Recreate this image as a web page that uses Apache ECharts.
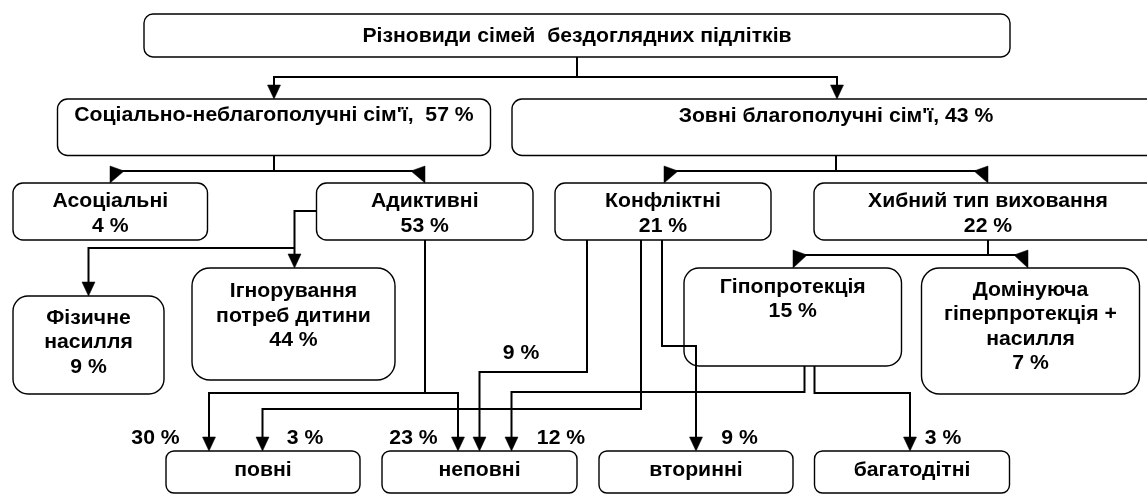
<!DOCTYPE html>
<html><head><meta charset="utf-8">
<script src="https://cdn.jsdelivr.net/npm/echarts@6/dist/echarts.min.js"></script>
<style>html,body{margin:0;padding:0;background:#fff}#c{width:1147px;height:494px}</style>
</head><body><div id="c"></div>
<script>
// ---- data ----
const categories = [
  'Різновиди сімей  бездоглядних підлітків',
  "Соціально-неблагополучні сім'ї",
  "Зовні благополучні сім'ї",
  'Асоціальні',
  'Адиктивні',
  'Конфліктні',
  'Хибний тип виховання',
  'Фізичне\nнасилля',
  'Ігнорування\nпотреб дитини',
  'Гіпопротекція',
  'Домінуюча\nгіперпротекція +\nнасилля',
  'повні',
  'неповні',
  'вторинні',
  'багатодітні'
];
const shares = [null, 57, 43, 4, 53, 21, 22, 9, 44, 15, 7, null, null, null, null];
const flowSources = ['Адиктивні', 'Конфліктні', 'Адиктивні', 'Конфліктні', 'Гіпопротекція', 'Конфліктні', 'Гіпопротекція'];
const flowTargets = ['повні', 'повні', 'неповні', 'неповні', 'неповні', 'вторинні', 'багатодітні'];
const flowShares = [30, 3, 23, 9, 12, 9, 3];

// ---- layout (diagram coordinates) ----
// [x0, y0, x1, y1, radius, firstLineY, mode]
const boxLayout = [
  [144, 14, 1010, 57, 9, 36, 'single'],
  [57.5, 99, 490.5, 155.5, 10, 115, 'inline2'],
  [512, 99, 1160, 155.5, 10, 116, 'inline1'],
  [13, 183, 207.5, 240, 10, 201.5, 'stack'],
  [316.5, 183, 533, 240, 10, 201.5, 'stack'],
  [555, 183, 771, 240, 10, 201.5, 'stack'],
  [814, 183, 1162, 240, 10, 201.5, 'stack'],
  [13, 296, 164, 394, 15, 318, 'stack'],
  [192, 268, 395, 380, 18, 291.5, 'stack'],
  [684, 268, 901.5, 366, 15, 287, 'stack'],
  [921.5, 268, 1139.5, 394, 18, 290, 'stack'],
  [166, 451, 360, 493, 8, 470, 'single'],
  [382, 451, 577, 493, 8, 470, 'single'],
  [599, 451, 793, 493, 8, 470, 'single'],
  [814.5, 451, 1009.5, 493, 8, 470, 'single']
];
const lineH = 24.5;
// connector polylines
const connectorPaths = [
  [[577, 57], [577, 77]],
  [[274, 87], [274, 77], [837, 77], [837, 87]],
  [[274, 155.5], [274, 171]],
  [[122, 171], [413, 171]],
  [[836, 155.5], [836, 171]],
  [[676, 171], [976, 171]],
  [[988, 240], [988, 255]],
  [[805, 255], [1016, 255]],
  [[316.5, 211], [294.5, 211], [294.5, 256]],
  [[294.5, 248], [88.5, 248], [88.5, 284]],
  [[425, 240], [425, 393]],
  [[209, 439], [209, 393], [458, 393], [458, 439]],
  [[641, 240], [641, 409], [262.5, 409], [262.5, 439]],
  [[587, 240], [587, 372], [479.5, 372], [479.5, 439]],
  [[804.5, 366], [804.5, 392], [511.5, 392], [511.5, 439]],
  [[662, 240], [662, 346], [696, 346], [696, 439]],
  [[814.5, 366], [814.5, 393], [910, 393], [910, 439]]
];
// down arrowheads: [x, tipY]
const downArrows = [
  [274, 99], [837, 99], [294.5, 268], [88.5, 296],
  [209, 451], [262.5, 451], [458, 451], [479.5, 451], [511.5, 451], [696, 451], [910, 451]
];
// side arrowheads: [x, lineY, tipY, dir]
const sideArrows = [
  [110, 171, 183, 1], [425, 171, 183, -1],
  [664, 171, 183, 1], [988, 171, 183, -1],
  [793, 255, 268, 1], [1028, 255, 268, -1]
];
// flow label positions [x, y] (same order as flowShares)
const flowLabelPos = [[155.5, 438], [305, 438], [413.5, 438], [521, 353], [561, 438], [739.5, 438], [943, 438]];

const FONT = 'bold 20px "Liberation Sans", Arial, sans-serif';
const STRETCH = 1.06;

function boxLines(i) {
  const mode = boxLayout[i][6];
  const name = categories[i];
  const s = shares[i];
  if (mode === 'single') return [name];
  if (mode === 'inline2') return [name + ',  ' + s + ' %'];
  if (mode === 'inline1') return [name + ', ' + s + ' %'];
  return name.split('\n').concat([s + ' %']);
}

function textEl(str, p) {
  return {
    type: 'text', x: p[0], y: p[1], scaleX: STRETCH, scaleY: 1,
    style: {text: str, x: 0, y: 0, font: FONT, fill: '#000000', textAlign: 'center', textVerticalAlign: 'middle'}
  };
}

const chart = echarts.init(document.getElementById('c'), null, {renderer: 'canvas'});
chart.setOption({
  animation: false,
  backgroundColor: '#ffffff',
  grid: {left: 0, right: 0, top: 0, bottom: 0},
  xAxis: {type: 'value', min: 0, max: 1147, show: false},
  yAxis: {type: 'value', min: 0, max: 494, inverse: true, show: false},
  series: [
    {
      type: 'custom', name: 'boxes', z: 1,
      data: boxLayout.map((b, i) => [b[0], b[1], b[2], b[3], b[4], i]),
      renderItem: function (params, api) {
        const p0 = api.coord([api.value(0), api.value(1)]);
        const p1 = api.coord([api.value(2), api.value(3)]);
        return {
          type: 'rect',
          shape: {x: p0[0], y: p0[1], width: p1[0] - p0[0], height: p1[1] - p0[1], r: api.value(4)},
          style: {fill: '#ffffff', stroke: '#000000', lineWidth: 1.4}
        };
      }
    },
    {
      type: 'custom', name: 'connectors', z: 2,
      data: connectorPaths.map((p, i) => [i]),
      renderItem: function (params, api) {
        const pts = connectorPaths[api.value(0)].map(q => api.coord(q));
        return {
          type: 'polyline',
          shape: {points: pts},
          style: {fill: null, stroke: '#000000', lineWidth: 2}
        };
      }
    },
    {
      type: 'custom', name: 'downArrows', z: 3,
      data: downArrows,
      renderItem: function (params, api) {
        const x = api.value(0), t = api.value(1);
        const pts = [[x - 6.5, t - 14], [x + 6.5, t - 14], [x, t]].map(q => api.coord(q));
        return {type: 'polygon', shape: {points: pts}, style: {fill: '#000000', stroke: '#000000', lineWidth: 0.5}};
      }
    },
    {
      type: 'custom', name: 'sideArrows', z: 3,
      data: sideArrows,
      renderItem: function (params, api) {
        const x = api.value(0), ly = api.value(1), t = api.value(2), d = api.value(3);
        const pts = [[x, ly - 5], [x + d * 14, ly], [x, t]].map(q => api.coord(q));
        return {type: 'polygon', shape: {points: pts}, style: {fill: '#000000', stroke: '#000000', lineWidth: 0.5}};
      }
    },
    {
      type: 'custom', name: 'boxText', z: 4,
      data: boxLayout.map((b, i) => [(b[0] + b[2]) / 2, b[5], i]),
      renderItem: function (params, api) {
        const i = api.value(2);
        const lines = boxLines(i);
        const children = lines.map((ln, k) => textEl(ln, api.coord([api.value(0), api.value(1) + k * lineH])));
        return {type: 'group', children: children};
      }
    },
    {
      type: 'custom', name: 'flowLabels', z: 4,
      data: flowShares.map((v, i) => [flowLabelPos[i][0], flowLabelPos[i][1], v]),
      renderItem: function (params, api) {
        return textEl(api.value(2) + ' %', api.coord([api.value(0), api.value(1)]));
      }
    }
  ]
});
</script>
</body></html>
